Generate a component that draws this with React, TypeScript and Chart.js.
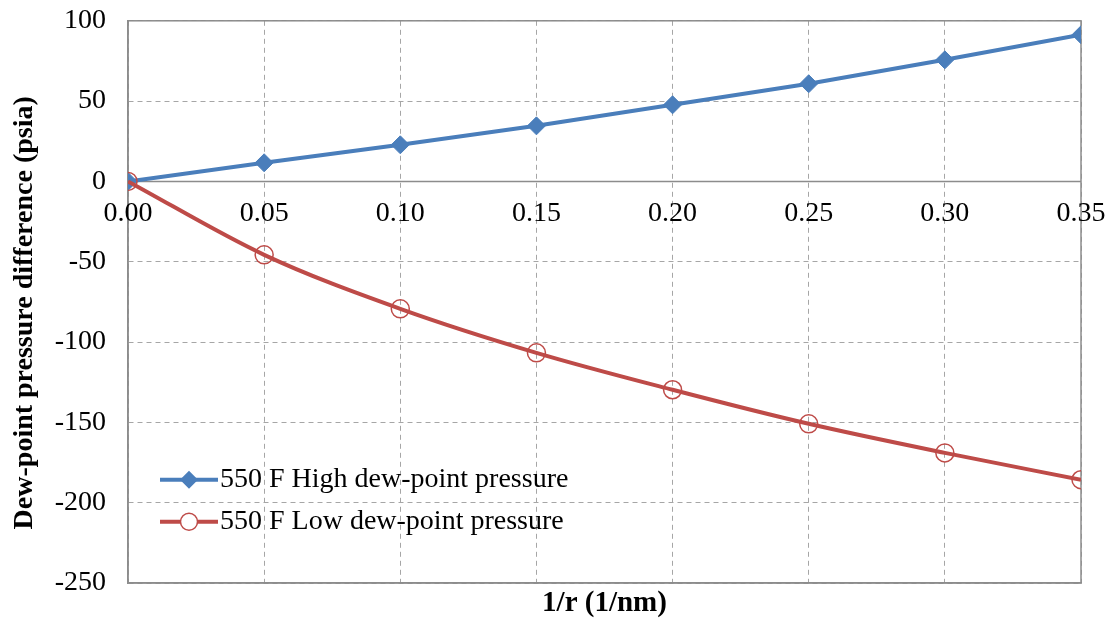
import React, { useEffect, useRef } from "react";
import { Chart, registerables } from "chart.js";

Chart.register(...registerables);

const xValues = [0, 0.05, 0.1, 0.15, 0.2, 0.25, 0.3, 0.35];
const highValues = [0, 11.6, 22.8, 34.6, 47.7, 60.8, 75.7, 91.3];
const lowValues = [0, -45.7, -79.3, -106.7, -129.7, -150.9, -169, -185.7];
const seriesNames = ["550 F High dew-point pressure", "550 F Low dew-point pressure"];
const xTitle = "1/r (1/nm)";
const yTitle = "Dew-point pressure difference (psia)";

const FONT = "'Liberation Serif', 'Times New Roman', serif";
const BLUE = "#4A7EBB";
const RED = "#BE4B48";

const customPlugin = {
  id: "custom",
  beforeDatasetsDraw(chart: any) {
    const { ctx, chartArea, scales } = chart;
    ctx.save();
    ctx.strokeStyle = "#8c8c8c";
    ctx.lineWidth = 1.5;
    ctx.setLineDash([]);
    ctx.strokeRect(chartArea.left, chartArea.top, chartArea.right - chartArea.left, chartArea.bottom - chartArea.top);
    const y0 = scales.y.getPixelForValue(0);
    ctx.beginPath();
    ctx.moveTo(chartArea.left, y0);
    ctx.lineTo(chartArea.right, y0);
    ctx.stroke();
    ctx.fillStyle = "#000";
    ctx.font = `28px ${FONT}`;
    ctx.textAlign = "center";
    ctx.textBaseline = "middle";
    xValues.forEach((v) => {
      const px = scales.x.getPixelForValue(v);
      ctx.fillText(v.toFixed(2), px, y0 + 32);
    });
    // axis titles
    ctx.font = `bold 29px ${FONT}`;
    ctx.fillText(xTitle, (chartArea.left + chartArea.right) / 2, chartArea.bottom + 21);
    ctx.save();
    ctx.translate(25, chartArea.top + 292);
    ctx.rotate(-Math.PI / 2);
    ctx.font = `bold 28px ${FONT}`;
    ctx.fillText(yTitle, 0, 0);
    ctx.restore();
    ctx.restore();
  },
  afterDatasetsDraw(chart: any) {
    const { ctx, chartArea } = chart;
    ctx.save();
    const x1 = chartArea.left + 32;
    const x2 = chartArea.left + 90;
    const rows = [chartArea.top + 459, chartArea.top + 501];
    chart.data.datasets.forEach((ds: any, i: number) => {
      const y = rows[i];
      ctx.strokeStyle = ds.borderColor;
      ctx.lineWidth = 4;
      ctx.setLineDash([]);
      ctx.beginPath();
      ctx.moveTo(x1, y);
      ctx.lineTo(x2, y);
      ctx.stroke();
      const cx = (x1 + x2) / 2;
      if (i === 0) {
        const r = 9;
        ctx.fillStyle = ds.pointBackgroundColor;
        ctx.beginPath();
        ctx.moveTo(cx, y - r);
        ctx.lineTo(cx + r, y);
        ctx.lineTo(cx, y + r);
        ctx.lineTo(cx - r, y);
        ctx.closePath();
        ctx.fill();
      } else {
        ctx.fillStyle = "#fff";
        ctx.strokeStyle = ds.pointBorderColor;
        ctx.lineWidth = 1.5;
        ctx.beginPath();
        ctx.arc(cx, y, 8.5, 0, Math.PI * 2);
        ctx.fill();
        ctx.stroke();
      }
      ctx.fillStyle = "#000";
      ctx.font = `28px ${FONT}`;
      ctx.textAlign = "left";
      ctx.textBaseline = "middle";
      ctx.fillText(ds.label, x2 + 2, y);
    });
    ctx.restore();
  },
};

export default function App() {
  const canvasRef = useRef<HTMLCanvasElement | null>(null);

  useEffect(() => {
    if (!canvasRef.current) return;
    const chart = new Chart(canvasRef.current, {
      type: "line",
      data: {
        datasets: [
          {
            label: seriesNames[0],
            data: xValues.map((x, i) => ({ x, y: highValues[i] })),
            borderColor: BLUE,
            backgroundColor: BLUE,
            pointBackgroundColor: BLUE,
            pointBorderColor: BLUE,
            pointStyle: "rectRot",
            pointRadius: 9,
            borderWidth: 4,
            pointBorderWidth: 1,
            tension: 0,
            order: 2,
          },
          {
            label: seriesNames[1],
            data: xValues.map((x, i) => ({ x, y: lowValues[i] })),
            borderColor: RED,
            backgroundColor: "rgba(0,0,0,0)",
            pointBackgroundColor: "rgba(0,0,0,0)",
            pointBorderColor: RED,
            pointStyle: "circle",
            pointRadius: 9,
            pointBorderWidth: 1.5,
            borderWidth: 4,
            cubicInterpolationMode: "monotone",
            order: 1,
          },
        ],
      },
      options: {
        animation: false,
        responsive: true,
        maintainAspectRatio: false,
        layout: { padding: { top: 0, right: 28, left: 0, bottom: 0 } },
        plugins: {
          legend: { display: false },
          tooltip: { enabled: false },
        },
        scales: {
          x: {
            type: "linear",
            min: 0,
            max: 0.35,
            ticks: { stepSize: 0.05, display: false },
            grid: {
              color: "#a6a6a6",
              lineWidth: 1,
              drawTicks: false,
            },
            border: { display: true, color: "#8c8c8c", width: 1.5, dash: [5, 4] },
            title: { display: false },
            afterFit(scale: any) {
              scale.height = 35;
            },
          },
          y: {
            min: -250,
            max: 100,
            ticks: {
              stepSize: 50,
              color: "#000",
              font: { family: FONT, size: 28 },
              padding: 4,
            },
            grid: {
              color: "#a6a6a6",
              lineWidth: 1,
              drawTicks: true,
              tickLength: 18,
              tickColor: "rgba(0,0,0,0)",
            },
            border: { display: true, color: "#8c8c8c", width: 1.5, dash: [5, 4] },
            title: { display: false },
            afterFit(scale: any) {
              scale.width = 128;
            },
          },
        },
      },
      plugins: [customPlugin],
    } as any);
    return () => chart.destroy();
  }, []);

  return (
    <div style={{ position: "fixed", left: 0, top: 0, width: 1109, height: 618, background: "#fff" }}>
      <canvas ref={canvasRef} />
    </div>
  );
}
